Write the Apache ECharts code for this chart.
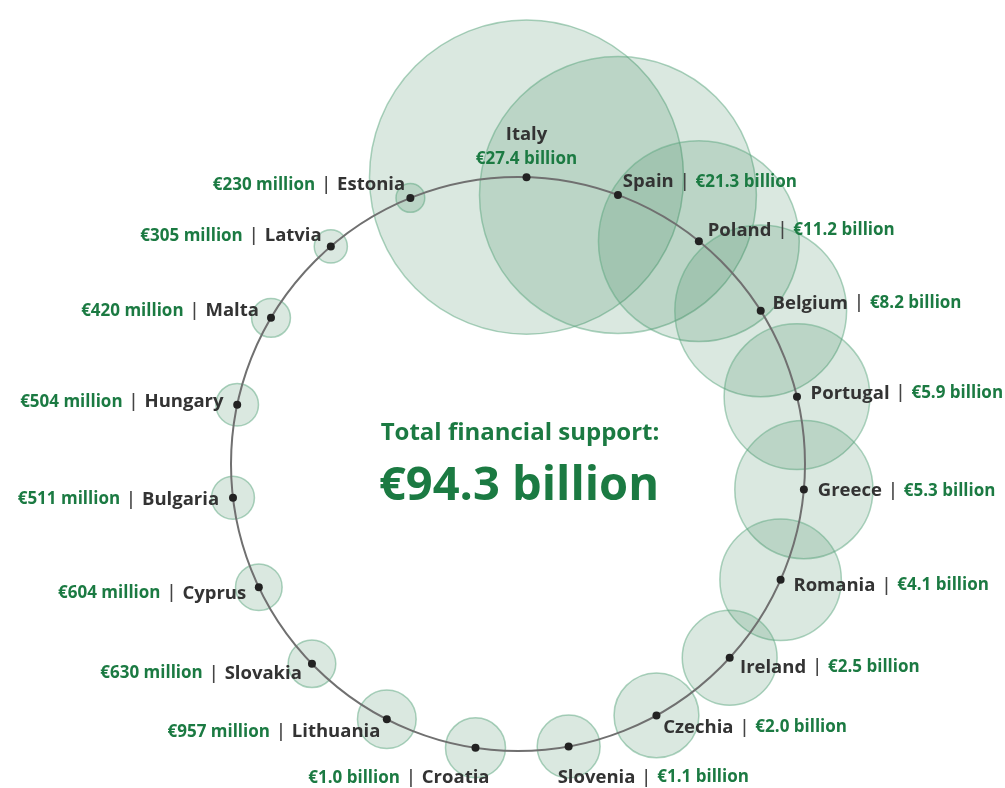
<!DOCTYPE html>
<html>
<head>
<meta charset="utf-8">
<title>Total financial support by country</title>
<script src="https://cdn.jsdelivr.net/npm/echarts@6/dist/echarts.min.js"></script>
<style>
  html, body { margin: 0; padding: 0; background: #ffffff; }
  #chart { width: 1005px; height: 788px; }
</style>
</head>
<body>
<div id="chart"></div>
<script>
// Countries in ring order, clockwise from the top
const countries = ['Italy', 'Spain', 'Poland', 'Belgium', 'Portugal', 'Greece', 'Romania',
  'Ireland', 'Czechia', 'Slovenia', 'Croatia', 'Lithuania', 'Slovakia', 'Cyprus',
  'Bulgaria', 'Hungary', 'Malta', 'Latvia', 'Estonia'];
// Financial support, € billion
const amounts = [27.4, 21.3, 11.2, 8.2, 5.9, 5.3, 4.1,
  2.5, 2.0, 1.1, 1.0, 0.957, 0.63, 0.604,
  0.511, 0.504, 0.42, 0.305, 0.23];
const totalLabel = ['Total financial support:', '€94.3 billion'];

const GREEN = '#1b7a42';
const NAME = '#333333';
const FONT = '"Open Sans", "Noto Sans", sans-serif';

const CX = 518, CY = 464, R = 287;
const ANGLE_MAX = 19.27;   // ring spans slightly more than one slot per country
const START = 88.3;        // first country sits just right of the top

function fmt(v) {
  return v >= 1 ? '€' + v.toFixed(1) + ' billion' : '€' + Math.round(v * 1000) + ' million';
}

// Label placement: pushed outward from the ring, reading away from it
function labelFor(i) {
  const deg = (90 - START) + i * 360 / ANGLE_MAX;
  const rad = deg * Math.PI / 180;
  const push = 14;
  let dx = Math.sin(rad) * push, dy = -Math.cos(rad) * push;
  const name = countries[i], val = fmt(amounts[i]);
  const half = 4; // half the dot size; label position is from the dot's corner
  if (i === 0) {
    return {
      position: [half, half - 6], align: 'center', verticalAlign: 'bottom',
      formatter: '{n|' + name + '}\n{v|' + val + '}'
    };
  }
  let align, text;
  if (deg < 165) {
    align = 'left';
    text = '{n|' + name + '}{s||}{v|' + val + '}';
  } else if (deg < 180) {
    align = 'left'; dx = -11; dy = 31;
    text = '{n|' + name + '}{s||}{v|' + val + '}';
  } else if (deg < 195) {
    align = 'right'; dx = 14; dy = 30;
    text = '{v|' + val + '}{s||}{n|' + name + '}';
  } else {
    align = 'right';
    text = '{v|' + val + '}{s||}{n|' + name + '}';
  }
  return {
    position: [half + dx, half + dy], align: align, verticalAlign: 'middle',
    formatter: text
  };
}

const plain = { textBorderWidth: 0, textShadowBlur: 0, textBorderColor: 'transparent' };
const rich = {
  n: Object.assign({ color: NAME, fontFamily: FONT, fontWeight: 'bold', fontSize: 18.5, lineHeight: 24 }, plain),
  v: Object.assign({ color: GREEN, fontFamily: FONT, fontWeight: 'bold', fontSize: 17, lineHeight: 24 }, plain),
  s: Object.assign({ color: '#444444', fontFamily: FONT, fontWeight: 600, fontSize: 18, padding: [0, 6, 0, 6] }, plain)
};

const bubbleData = amounts.map((v, i) => ({ name: countries[i], value: [1, i, v] }));
const dotData = amounts.map((v, i) => {
  const l = labelFor(i);
  return {
    name: countries[i],
    value: [1, i, v],
    label: Object.assign({
      show: true, position: l.position, align: l.align, verticalAlign: l.verticalAlign,
      formatter: l.formatter, rich: rich, color: NAME
    }, plain)
  };
});

const chart = echarts.init(document.getElementById('chart'), null, { renderer: 'canvas' });
chart.setOption({
  backgroundColor: '#ffffff',
  animation: false,
  polar: { center: [CX, CY], radius: R },
  angleAxis: {
    type: 'value', min: 0, max: ANGLE_MAX, startAngle: START, clockwise: true,
    z: 3,
    axisLine: { show: true, lineStyle: { color: '#707070', width: 2 } },
    axisTick: { show: false }, axisLabel: { show: false }, splitLine: { show: false }
  },
  radiusAxis: { type: 'value', min: 0, max: 1, show: false },
  graphic: [
    {
      type: 'text', x: CX + 2, y: 433, z: 10,
      style: { text: totalLabel[0], fill: GREEN, font: 'bold 24px ' + FONT, align: 'center', verticalAlign: 'middle' }
    },
    {
      type: 'text', x: CX + 1, y: 487, z: 10,
      style: { text: totalLabel[1], fill: GREEN, font: 'bold 47px ' + FONT, align: 'center', verticalAlign: 'middle' }
    }
  ],
  series: [
    {
      name: 'support',
      type: 'scatter',
      coordinateSystem: 'polar',
      z: 1,
      silent: true,
      symbol: 'circle',
      symbolSize: d => 60 * Math.sqrt(d[2]),
      itemStyle: { color: 'rgba(47,125,80,0.175)', borderColor: 'rgba(90,165,125,0.5)', borderWidth: 1.5, opacity: 1 },
      data: bubbleData
    },
    {
      name: 'points',
      type: 'scatter',
      coordinateSystem: 'polar',
      z: 5,
      silent: true,
      symbol: 'circle',
      symbolSize: 8,
      itemStyle: { color: '#222222', opacity: 1 },
      labelLayout: { hideOverlap: false },
      data: dotData
    }
  ]
});
</script>
</body>
</html>
